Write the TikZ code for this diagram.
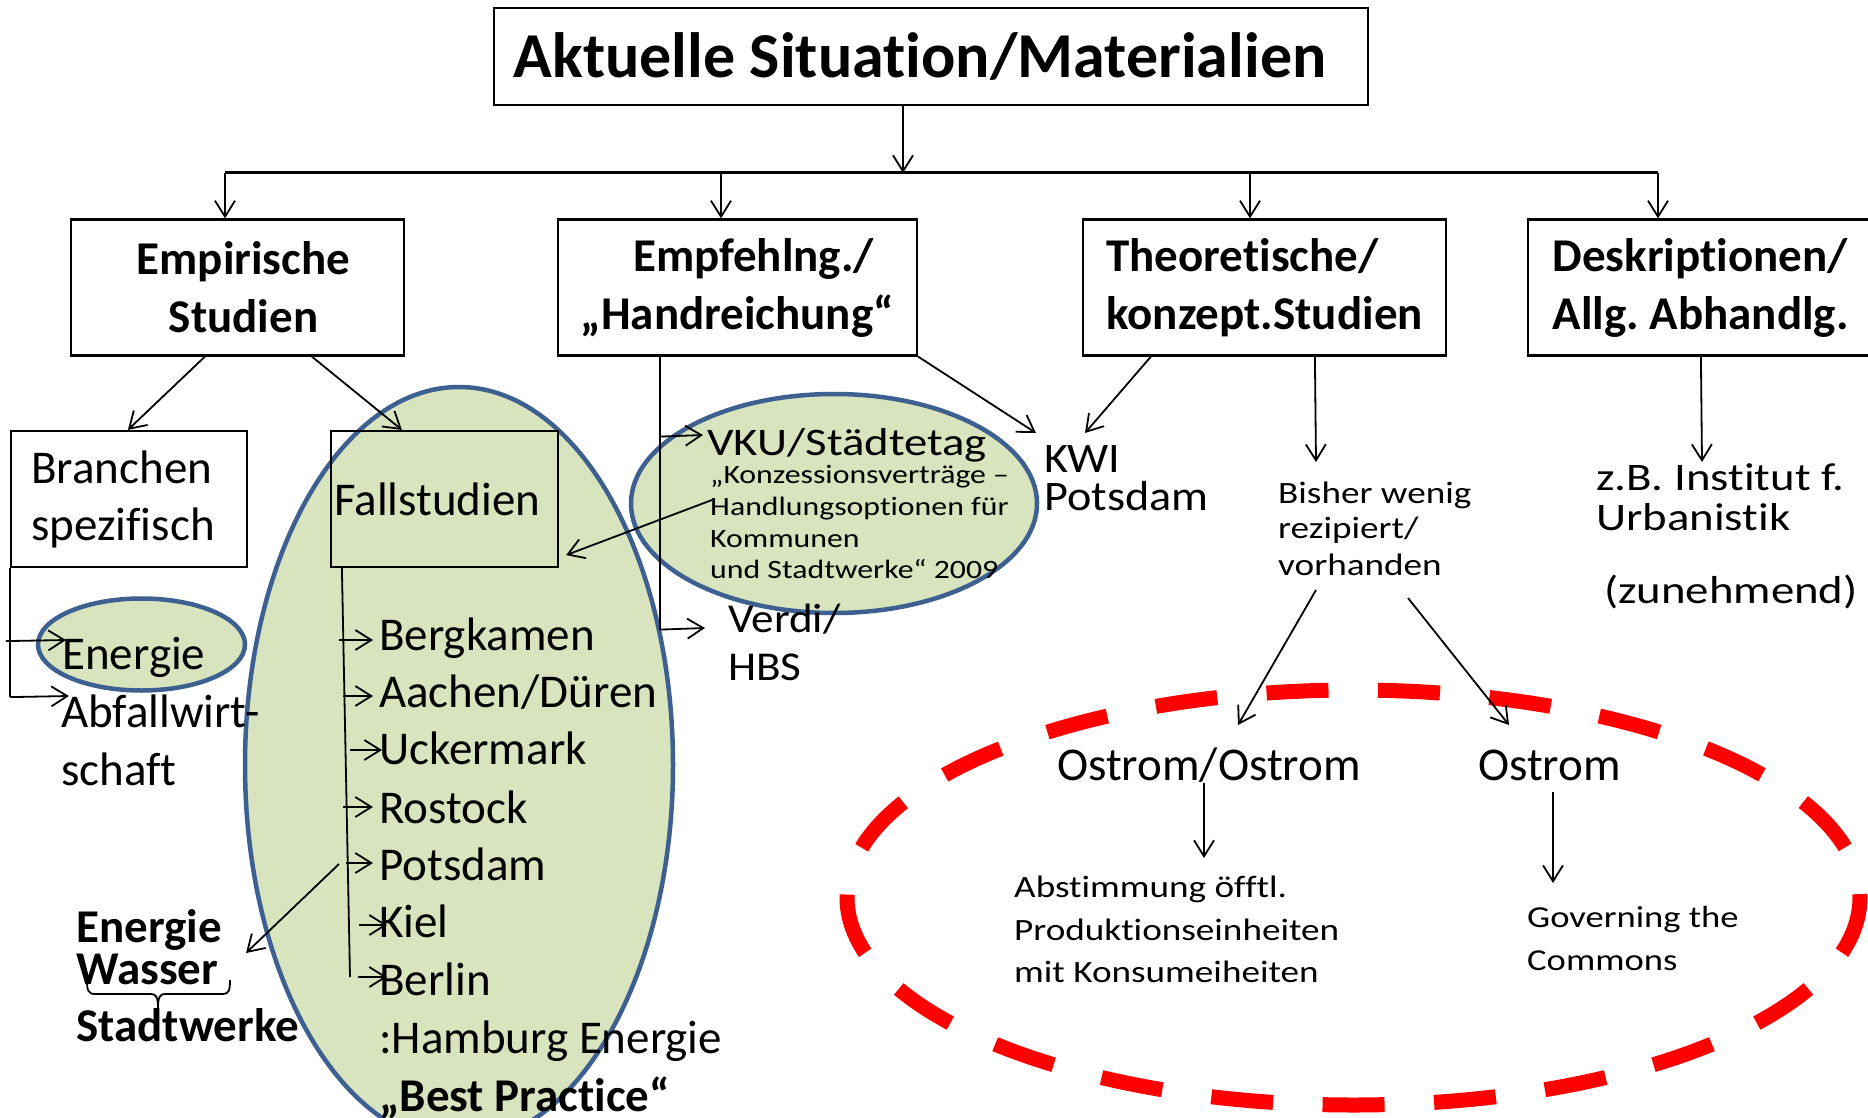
\documentclass[tikz,border=0pt]{standalone}
\usepackage{fontspec}
\setmainfont{Carlito}[Ligatures={NoCommon}]
\newfontfamily\cwide{Carlito}[FakeStretch=1.1,Ligatures={NoCommon}]
\newfontfamily\cwider{Carlito}[FakeStretch=1.2,Ligatures={NoCommon}]
\usetikzlibrary{arrows.meta,calc}
\definecolor{gfill}{HTML}{D7E4BD}
\definecolor{eblue}{HTML}{3D6091}
\frenchspacing
\tikzset{
  arr/.style={-{Straight Barb[length=16pt,width=20pt]},line width=1.8pt},
  ln/.style={line width=1.8pt},
  box/.style={draw,line width=2.2pt,inner sep=0pt},
  hdr/.style={box,font=\fontsize{47}{58}\selectfont\bfseries},
  lbl/.style={inner sep=0pt,anchor=base west,font=\fontsize{47}{57}\selectfont},
  blbl/.style={lbl,font=\fontsize{47}{57}\selectfont\bfseries},
  wlbl/.style={lbl,font=\cwide\fontsize{41}{47}\selectfont},
  sub/.style={lbl,font=\cwider\fontsize{26.5}{32}\selectfont},
  rlbl/.style={lbl,font=\cwider\fontsize{31}{36}\selectfont},
  gell/.style={fill=gfill,draw=eblue,line width=4.5pt},
  reddash/.style={draw=red,line width=15pt,dash pattern=on 62pt off 49.55pt,dash phase=3.1pt},
}
\begin{document}
\frenchspacing
\begin{tikzpicture}[x=1pt,y=-1pt]
\useasboundingbox (0,0) rectangle (1868,1118);
\clip (0,0) rectangle (1868,1118);
\fill[white] (0,0) rectangle (1868,1118);

% background shapes
\draw[gell] (459,765) ellipse [x radius=214, y radius=378];
\draw[gell] (834,503.5) ellipse [x radius=203, y radius=109.5];
\draw[gell] (141.5,644.5) ellipse [x radius=103.5, y radius=46];
\draw[reddash] (1353.5,897.5) ellipse [x radius=506.5, y radius=207.5];

% title and bus
\node[box,font=\fontsize{64}{70}\selectfont\bfseries,minimum width=874pt,minimum height=97pt] (title) at (931,56.5) {Aktuelle Situation/Materialien\hspace*{22pt}};
\coordinate (bus) at (903,173);
\coordinate (busL) at (225,173);
\coordinate (busR) at (1658,173);
\coordinate (t2) at (721,173);
\coordinate (t3) at (1250,173);
\draw[arr] (title.south -| bus) -- (bus);
\draw[line width=3pt] (busL) -- (busR);

% second level boxes
\node[hdr,align=center,minimum width=333pt,minimum height=136pt] (b1) at (237.5,287.5) {\hspace*{12pt}Empirische\\\hspace*{12pt}Studien};
\node[hdr,align=center,minimum width=359pt,minimum height=136pt] (b2) at (737.5,287.5) {\hspace*{32pt}Empfehlng./\\„Handreichung“};
\node[hdr,align=left,minimum width=363pt,minimum height=136pt] (b3) at (1264.5,287.5) {Theoretische/\\konzept.Studien};
\node[hdr,align=left,minimum width=345pt,minimum height=136pt] (b4) at (1700.5,287.5) {Deskriptionen/\\Allg. Abhandlg.};
\draw[arr] (busL) -- (b1.north -| busL);
\draw[arr] (t2) -- (b2.north -| t2);
\draw[arr] (t3) -- (b3.north -| t3);
\draw[arr] (busR) -- (b4.north -| busR);

% third level boxes
\node[box,font=\fontsize{47}{57}\selectfont,align=left,minimum width=236pt,minimum height=136pt] (bra) at (129,499) {Branchen\\spezifisch\hspace*{12pt}};
\node[box,font=\fontsize{47}{57}\selectfont,minimum width=227pt,minimum height=136pt] (fall) at (444.5,499) {Fallstudien\hspace*{14pt}};
\draw[arr] ($(b1.south west)+(135,0)$) -- ($(bra.north west)+(118,0)$);
\draw[arr] ($(b1.south west)+(242,0)$) -- ($(fall.north west)+(72,0)$);

% left branch
\node[lbl] (eng) at (62,669) {Energie};
\node[lbl] (abf1) at (61,727) {Abfallwirt-};
\node[lbl] (abf2) at (61,785) {schaft};
\draw[ln] (bra.south west) -- ++(0,129);
\draw[arr] ($(bra.south west)+(-4,73)$) -- ($(eng.base west)+(4,-29)$);
\draw[arr] ($(bra.south west)+(0,129)$) -- ($(abf1.base west)+(8,-31)$);

% case studies list
\node[lbl] (berg) at (379,650) {Bergkamen};
\node[lbl] (aach) at (379,707) {Aachen/Düren};
\node[lbl] (ucker) at (379,764) {Uckermark};
\node[lbl] (rost) at (379,823) {Rostock};
\node[lbl] (pots) at (379,880) {Potsdam};
\node[lbl] (kiel) at (379,937) {Kiel};
\node[lbl] (berl) at (379,995) {Berlin};
\node[lbl] (hamb) at (379,1053) {:Hamburg Energie};
\node[blbl] (best) at (379,1111) {„Best Practice“};
\draw[ln] ($(fall.south west)+(12,0)$) -- ($(berl.base west)+(-29,-18)$);
\draw[arr] ($(berg.base west)+(-40,-10)$) -- ($(berg.base west)+(-6,-10)$);
\draw[arr] ($(aach.base west)+(-36,-11)$) -- ($(aach.base west)+(-6,-11)$);
\draw[arr] ($(ucker.base west)+(-29,-14)$) -- ($(ucker.base west)+(3,-14)$);
\draw[arr] ($(rost.base west)+(-36,-16)$) -- ($(rost.base west)+(-6,-16)$);
\draw[arr] ($(pots.base west)+(-33,-17)$) -- ($(pots.base west)+(-6,-17)$);
\draw[arr] ($(kiel.base west)+(-20,-12)$) -- ($(kiel.base west)+(8,-12)$);
\draw[arr] ($(berl.base west)+(-21,-18)$) -- ($(berl.base west)+(8,-18)$);

% Energie Wasser Stadtwerke
\node[blbl] (ew1) at (76,942) {Energie};
\node[blbl] (ew2) at (76,984) {Wasser};
\node[blbl] (ew3) at (76,1041) {Stadtwerke};
\draw[arr] ($(pots.base west)+(-40,-16)$) -- ($(ew2.base west)+(170,-31)$);
\draw[line width=1.8pt] (87,980) .. controls (87,990) and (88,994) .. (95,994) -- (151,994)
  .. controls (156,994) and (158,997) .. (158,1008)
  .. controls (158,997) and (160,994) .. (165,994) -- (223,994)
  .. controls (229,994) and (230,990) .. (230,980);

% Empfehlungen branch
\node[lbl,font=\cwider\fontsize{39}{45}\selectfont] (vku) at (707,455) {VKU/Städtetag};
\node[sub] (k1) at (710,483) {„Konzessionsverträge –};
\node[sub] (k2) at (710,515) {Handlungsoptionen für};
\node[sub] (k3) at (710,547) {Kommunen};
\node[sub] (k4) at (710,578) {und Stadtwerke“ 2009};
\node[wlbl] (verdi) at (728,632) {Verdi/};
\node[wlbl] (hbs) at (728,680) {HBS};
\draw[ln] ($(b2.south west)+(103,0)$) -- ($(b2.south west)+(103,273)$);
\draw[arr] ($(b2.south west)+(103,80)$) -- ($(vku.base west)+(-4,-20)$);
\draw[arr] ($(b2.south west)+(103,273)$) -- ($(verdi.base west)+(-23,-4)$);
\draw[arr] ($(k2.base west)+(2,-15)$) -- ($(fall.south east)+(7,-13)$);

% KWI
\node[lbl,font=\cwide\fontsize{42}{38}\selectfont] (kwi) at (1044,472) {KWI};
\node[lbl,font=\cwide\fontsize{42}{38}\selectfont] (kwip) at (1044,510) {Potsdam};
\draw[arr] (b2.south east) -- ($(kwi.base west)+(-8,-39)$);
\draw[arr] ($(b3.south west)+(69,0)$) -- ($(kwi.base west)+(41,-39)$);

% theoretical branch
\node[rlbl] (bis1) at (1278,503) {Bisher wenig};
\node[rlbl] (bis2) at (1278,538) {rezipiert/};
\node[rlbl] (bis3) at (1278,575) {vorhanden};
\draw[arr] ($(b3.south west)+(233,0)$) -- ($(bis1.base west)+(38,-41)$);

% descriptions branch
\node[lbl,font=\cwider\fontsize{39}{42}\selectfont] (zb1) at (1596,490) {z.B. Institut f.};
\node[lbl,font=\cwider\fontsize{39}{42}\selectfont] (zb2) at (1596,530) {Urbanistik};
\node[lbl,font=\cwider\fontsize{39}{42}\selectfont] (zb3) at (1604,603) {(zunehmend)};
\draw[arr] ($(b4.south west)+(174,0)$) -- ($(zb1.base west)+(106,-28)$);

% Ostrom area
\node[lbl] (oo) at (1057,780) {Ostrom/Ostrom};
\node[lbl] (os) at (1478,780) {Ostrom};
\draw[arr] ($(bis3.base west)+(38,15)$) -- ($(oo.base west)+(181,-55)$);
\draw[arr] ($(bis3.base west)+(130,23)$) -- ($(os.base west)+(31,-55)$);
\node[rlbl,font=\cwider\fontsize{31}{42}\selectfont] (ab1) at (1014,897) {Abstimmung öfftl.};
\node[rlbl,font=\cwider\fontsize{31}{42}\selectfont] (ab2) at (1014,940) {Produktionseinheiten};
\node[rlbl,font=\cwider\fontsize{31}{42}\selectfont] (ab3) at (1014,982) {mit Konsumeiheiten};
\node[rlbl,font=\cwider\fontsize{30.5}{43}\selectfont] (gv1) at (1527,927) {Governing the};
\node[rlbl,font=\cwider\fontsize{30.5}{43}\selectfont] (gv2) at (1527,970) {Commons};
\draw[arr] ($(oo.base west)+(147,3)$) -- ($(ab1.base west)+(190,-39)$);
\draw[arr] ($(os.base west)+(75,12)$) -- ($(gv1.base west)+(26,-44)$);
\end{tikzpicture}
\end{document}
